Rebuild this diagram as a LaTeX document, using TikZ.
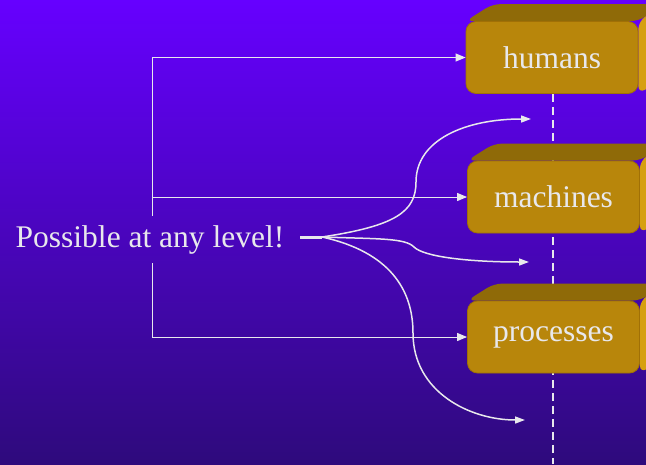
\documentclass[tikz,border=0pt]{standalone}
\usepackage{fontspec}
\setmainfont{Liberation Serif}
\usetikzlibrary{arrows.meta}
\definecolor{bgtop}{RGB}{102,0,255}
\definecolor{bgbot}{RGB}{46,10,124}
\definecolor{inkwhite}{RGB}{232,232,236}
\definecolor{frontgold}{RGB}{184,134,11}
\definecolor{topgold}{RGB}{143,106,8}
\definecolor{sidegold}{RGB}{214,160,16}
\definecolor{edgegold}{RGB}{160,112,6}
\pgfdeclarelayer{bg}
\pgfdeclarelayer{faces}
\pgfsetlayers{bg,faces,main}
\tikzset{
  blockfront/.style={fill=frontgold, draw=edgegold, line width=0.8pt,
    rounded corners=10pt, minimum width=172pt, minimum height=72pt,
    inner sep=0pt, text=inkwhite, font=\fontsize{31.5}{36}\selectfont},
  topface/.style={fill=topgold, rounded corners=8pt},
  sideface/.style={fill=sidegold, rounded corners=8pt},
  bracketarrow/.style={draw=inkwhite, line width=1pt,
    -{Triangle[length=10pt,width=8pt]}},
  fanarrow/.style={draw=inkwhite, line width=1.5pt,
    -{Triangle[length=10pt,width=7pt]}},
  levelline/.style={draw=inkwhite, line width=1.5pt, dash pattern=on 8pt off 5pt},
}
\newcommand\blockfaces[1]{%
  \fill[topface] (#1.north west) -- ([shift={(27,-17)}]#1.north west)
    -- ([shift={(27,-17)}]#1.north east) -- (#1.north east) -- cycle;
  \fill[sideface] (#1.north east) -- ([shift={(27,-17)}]#1.north east)
    -- ([shift={(27,-17)}]#1.south east) -- (#1.south east) -- cycle;
}
\begin{document}
\begin{tikzpicture}[x=1pt, y=-1pt]
  \useasboundingbox (0,0) rectangle (646,464);
  \clip (0,0) rectangle (646,464);

  % the three levels
  \node[blockfront] (humans)    at (552,57.5) {humans};
  \node[blockfront] (machines)  at (553.5,197) {machines};
  \node[blockfront] (processes) at (553.5,337) {processes};

  \begin{pgfonlayer}{faces}
    \blockfaces{humans}
    \blockfaces{machines}
    \blockfaces{processes}
  \end{pgfonlayer}

  \begin{pgfonlayer}{bg}
    \shade[top color=bgtop, bottom color=bgbot] (0,0) rectangle (646,464);
    \coordinate (lineend) at (553,464);
    \draw[levelline] (humans.south -| lineend) -- (lineend);
  \end{pgfonlayer}

  % caption and its bracket
  \node[text=inkwhite, font=\fontsize{31.5}{36}\selectfont, inner sep=0pt,
        minimum height=47pt] (txt) at (150,239.5) {Possible at any level!};
  \draw[bracketarrow] ([xshift=2pt]txt.north) |- (humans.west);
  \draw[bracketarrow] ([xshift=2pt]txt.north) |- (machines.west);
  \draw[bracketarrow] ([xshift=2pt]txt.south) |- (processes.west);

  % fan of curved arrows
  \coordinate (src) at (300,237);
  \coordinate (fan) at (322,237);
  \coordinate (up)  at (531,119);
  \coordinate (mid) at (529,262);
  \coordinate (low) at (525,420);
  \draw[draw=inkwhite, line width=3pt] (src) -- (fan);
  \draw[fanarrow] (fan) .. controls (395,226) and (416,212) .. (416,182)
    .. controls (416,140) and (465,119) .. (up);
  \draw[fanarrow] (fan) .. controls (380,239) and (405,238) .. (414,247)
    .. controls (424,257) and (470,262) .. (mid);
  \draw[fanarrow] (fan) .. controls (390,252) and (413,290) .. (413,333)
    .. controls (413,392) and (470,420) .. (low);
\end{tikzpicture}
\end{document}
